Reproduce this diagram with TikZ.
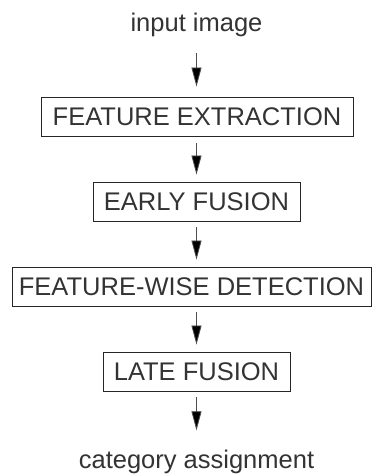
\documentclass[tikz,border=0pt]{standalone}
\usepackage{fontspec}
\setmainfont{Liberation Sans}
\usetikzlibrary{arrows.meta}
\definecolor{ink}{HTML}{333333}
\begin{document}
\begin{tikzpicture}[x=1pt,y=-1pt,
  stage/.style={draw=black!85, line width=0.9pt, text=ink,
    font=\fontsize{25.5}{30}\selectfont, inner sep=0pt,
    minimum height=39pt, text height=18.3pt, text depth=0pt},
  caption/.style={text=ink, font=\fontsize{25.5}{30}\selectfont,
    inner sep=0pt, anchor=base},
  flow/.style={draw=black!70, line width=0.8pt,
    -{Triangle[length=19pt,width=10pt,fill=black]}},
]
\useasboundingbox (0,0) rectangle (372,474);
\coordinate (axis) at (196.5,0);

\node[caption] (in) at (196.5,31.5) {input image};
\node[stage, minimum width=312pt] (fe) at (197,116.5) {FEATURE EXTRACTION};
\node[stage, minimum width=207pt] (ef) at (196.5,201.5) {EARLY FUSION};
\node[stage, minimum width=359pt] (fw) at (191.5,286.5) {FEATURE-WISE DETECTION};
\node[stage, minimum width=187pt] (lf) at (196.5,371.5) {LATE FUSION};
\node[caption] (out) at (196.5,468) {category assignment};

\draw[flow, shorten <=16pt, shorten >=10pt] (in.south -| axis) -- (fe.north -| axis);
\draw[flow, shorten <=7pt, shorten >=7pt] (fe.south -| axis) -- (ef.north -| axis);
\draw[flow, shorten <=6pt, shorten >=7pt] (ef.south -| axis) -- (fw.north -| axis);
\draw[flow, shorten <=6pt, shorten >=7pt] (fw.south -| axis) -- (lf.north -| axis);
\draw[flow, shorten <=6pt, shorten >=19pt] (lf.south -| axis) -- (out.north -| axis);
\end{tikzpicture}
\end{document}
